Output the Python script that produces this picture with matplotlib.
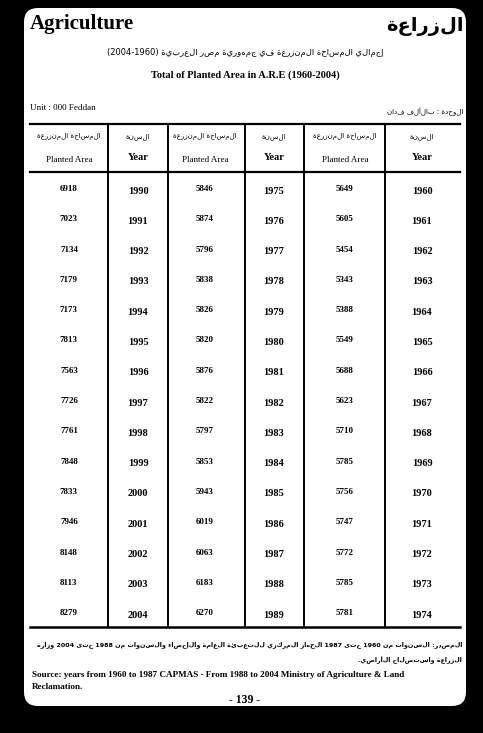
import re
import matplotlib.pyplot as plt
from matplotlib.patches import FancyBboxPatch

# Data: planted area (000 feddan) by year
years_a = list(range(1960, 1975))
area_a = [5649, 5605, 5454, 5343, 5388, 5549, 5688, 5623, 5710, 5785, 5756, 5747, 5772, 5785, 5781]
years_b = list(range(1975, 1990))
area_b = [5846, 5874, 5796, 5838, 5826, 5820, 5876, 5822, 5797, 5853, 5943, 6019, 6063, 6183, 6270]
years_c = list(range(1990, 2005))
area_c = [6918, 7023, 7134, 7179, 7173, 7813, 7563, 7726, 7761, 7848, 7833, 7946, 8148, 8113, 8279]


def ar(s):
    # matplotlib lays glyphs left to right: flip word order and Arabic letters,
    # but keep digit runs as they are
    words = s.split(' ')[::-1]
    out = []
    for w in words:
        if re.search(r'[\u0600-\u06FF]', w):
            w = w[::-1]
        out.append(w)
    return ' '.join(out)


fig = plt.figure(figsize=(4.83, 7.33), dpi=100, facecolor='black')
ax = fig.add_axes([0, 0, 1, 1])
ax.set_xlim(0, 483)
ax.set_ylim(733, 0)
ax.axis('off')

ax.add_patch(FancyBboxPatch((24, 8), 442, 698, boxstyle='round,pad=0,rounding_size=14',
                            fc='white', ec='none'))

serif = 'Liberation Serif'
arf = 'DejaVu Sans'
ax.text(30, 24, 'Agriculture', fontsize=15, fontweight='bold', family=serif, va='center')
ax.text(464, 26, ar('الزراعة'), fontsize=14, fontweight='bold', family=arf, va='center', ha='right')
ax.text(245, 52, ar('إجمالي المساحة المنزرعة في جمهورية مصر العربية (2004-1960)'),
        fontsize=6, ha='center', va='center', family=arf)
ax.text(245, 75, 'Total of Planted Area in A.R.E (1960-2004)', fontsize=7.5, fontweight='bold',
        family=serif, ha='center', va='center')
ax.text(30, 108, 'Unit : 000 Feddan', fontsize=6.5, family=serif, va='center')
ax.text(463, 112, ar('الوحدة : بالألف فدان'), fontsize=5, family=arf, va='center', ha='right')

# grid lines
left, right = 30, 460
top, hbot, bot = 124, 172, 627
ax.plot([left, right], [top, top], color='black', lw=1.6)
ax.plot([left, right], [hbot, hbot], color='black', lw=1.6)
ax.plot([left, right], [bot, bot], color='black', lw=1.8)
for x in [108, 168, 245, 304, 385]:
    ax.plot([x, x], [top, bot], color='black', lw=1.4)

col_area = [69, 205, 345]
col_year = [138, 274, 422]
for xa, xy in zip(col_area, col_year):
    ax.text(xa, 137, ar('المساحة المنزرعة'), fontsize=5, ha='center', va='center', family=arf)
    ax.text(xa, 160, 'Planted Area', fontsize=6.5, ha='center', va='center', family=serif)
    ax.text(xy, 137, ar('السنة'), fontsize=5, ha='center', va='center', family=arf)
    ax.text(xy, 158, 'Year', fontsize=7.5, ha='center', va='center', family=serif, fontweight='bold')

row0, dy = 189, 30.3
for xa, xy, yrs, vals in [(69, 138, years_c, area_c), (205, 274, years_b, area_b),
                          (345, 422, years_a, area_a)]:
    for i, (yr, v) in enumerate(zip(yrs, vals)):
        y = row0 + i * dy
        ax.text(xa, y, str(v), fontsize=6.5, ha='center', va='center', family=serif, fontweight='bold')
        ax.text(xy, y + 2, str(yr), fontsize=7.5, ha='center', va='center', family=serif, fontweight='bold')

ax.text(462, 645, ar('المصدر: السنوات من 1960 حتى 1987 الجهاز المركزي للتعبئة العامة والإحصاء والسنوات من 1988 حتى 2004 وزارة'),
        fontsize=4.6, ha='right', va='center', family=arf, fontweight='bold')
ax.text(462, 660, ar('الزراعة واستصلاح الأراضي.'), fontsize=4.6, ha='right', va='center',
        family=arf, fontweight='bold')
ax.text(32, 675, 'Source: years from 1960 to 1987 CAPMAS - From 1988 to 2004 Ministry of Agriculture & Land',
        fontsize=6.6, va='center', family=serif, fontweight='bold')
ax.text(32, 687, 'Reclamation.', fontsize=6.6, va='center', family=serif, fontweight='bold')
ax.text(245, 700, '- 139 -', fontsize=8.5, ha='center', va='center', family=serif, fontweight='bold')

fig.savefig('out.png', dpi=100, facecolor='black')
